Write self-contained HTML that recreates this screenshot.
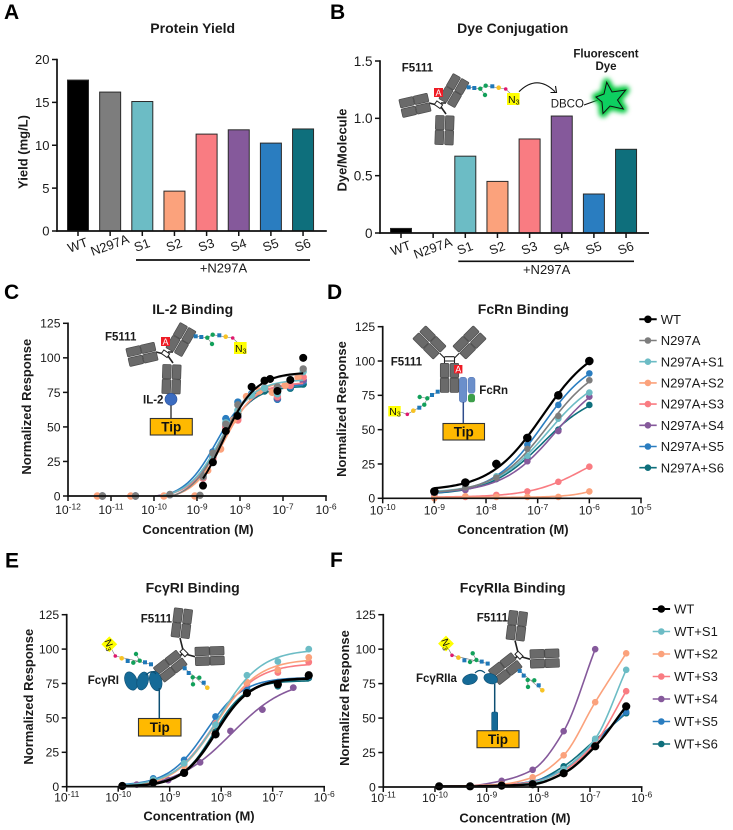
<!DOCTYPE html>
<html lang="en">
<head>
<meta charset="utf-8">
<title>Fc variant conjugation and binding figure</title>
<style>
html,body{margin:0;padding:0;background:#fff;}
svg{display:block;font-family:"Liberation Sans","DejaVu Sans",sans-serif;}
.b{font-weight:700;}
.ill{font-weight:700;font-size:11.5px;fill:#1a1a1a;}
.tip{font-weight:700;font-size:13.5px;fill:#111;text-anchor:middle;}
</style>
</head>
<body>
<svg id="figure" xmlns="http://www.w3.org/2000/svg" width="733" height="830" viewBox="0 0 733 830">
<defs>
<g id="dbl">
<rect x="-9.2" y="-14.6" width="8.6" height="14.2" rx="1" fill="#6a6a6a" stroke="#4a4a4a" stroke-width=".7"/>
<rect x="-9.2" y="-29.4" width="8.6" height="14.2" rx="1" fill="#6a6a6a" stroke="#4a4a4a" stroke-width=".7"/>
<rect x=".6" y="-14.6" width="8.6" height="14.2" rx="1" fill="#6a6a6a" stroke="#4a4a4a" stroke-width=".7"/>
<rect x=".6" y="-29.4" width="8.6" height="14.2" rx="1" fill="#6a6a6a" stroke="#4a4a4a" stroke-width=".7"/>
</g>
<filter id="glow" x="-60%" y="-60%" width="220%" height="220%"><feGaussianBlur stdDeviation="2.4"/></filter>
<g id="ab-side">
<path d="M429 103L437 105M446 114L441 107M446 103L441 103" stroke="#222" stroke-width="1.6" fill="none"/>
<rect x="435" y="102.5" width="7" height="4.4" fill="#fff" stroke="#222" stroke-width="1" transform="rotate(35 438.5 104.7)"/>
<use href="#dbl" transform="translate(445,115.3) rotate(182)"/>
<use href="#dbl" transform="translate(429.5,102) rotate(-103)"/>
<use href="#dbl" transform="translate(446.5,103.5) rotate(30)"/>
</g>
<g id="gly-b">
<path d="M468.7 87.3L480.3 88.7L485.7 85.7L505.7 89L512 95M480.3 88.7L485 95" stroke="#777" stroke-width=".6" fill="none"/>
<rect x="466.7" y="85.3" width="4" height="4" fill="#1f78b8"/>
<rect x="472.3" y="86" width="4" height="4" fill="#1f78b8"/>
<rect x="490.3" y="84.3" width="4" height="4" fill="#1f78b8"/>
<circle cx="480.3" cy="88.7" r="2.2" fill="#12a05a"/>
<circle cx="485.7" cy="85.7" r="2.2" fill="#12a05a"/>
<circle cx="485" cy="95" r="2.2" fill="#12a05a"/>
<circle cx="498.7" cy="87.7" r="2.3" fill="#f7c325"/>
<circle cx="505.7" cy="89" r="1.8" fill="#e0186e"/>
<rect x="507" y="93" width="12.6" height="12" fill="#ffff00"/>
<text x="508" y="103" font-size="10.5" fill="#111">N<tspan font-size="7" dy="1.5">3</tspan></text>
</g>
<g id="gly-e1">
<path d="M115.3 656L151 664.3M133.3 662.7L139.7 660.7L136 654M115.3 656L111 648" stroke="#777" stroke-width=".6" fill="none"/>
<rect x="125.7" y="659" width="4" height="4" fill="#1f78b8"/>
<rect x="143" y="660.3" width="4" height="4" fill="#1f78b8"/>
<rect x="149" y="662.3" width="4" height="4" fill="#1f78b8"/>
<circle cx="133.3" cy="662.7" r="2.2" fill="#12a05a"/>
<circle cx="139.7" cy="660.7" r="2.2" fill="#12a05a"/>
<circle cx="136" cy="654" r="2.2" fill="#12a05a"/>
<circle cx="121.7" cy="658.3" r="2.3" fill="#f7c325"/>
<circle cx="115.3" cy="656" r="1.8" fill="#e0186e"/>
<g transform="translate(109.3,644.3) rotate(45)">
<rect x="-5.6" y="-5.6" width="11.2" height="11.2" fill="#ffff00"/>
<text transform="rotate(25)" x="-5" y="3.5" font-size="10" fill="#111">N<tspan font-size="7" dy="1.5">3</tspan></text>
</g>
</g>
<g id="gly-e2">
<path d="M184.7 668.3L207.3 687.7M192.7 677.3L199.3 677.7M192.7 677.3L193 684.3" stroke="#777" stroke-width=".6" fill="none"/>
<rect x="182.7" y="666.3" width="4" height="4" fill="#1f78b8"/>
<rect x="186.7" y="671" width="4" height="4" fill="#1f78b8"/>
<rect x="201.7" y="680.7" width="4" height="4" fill="#1f78b8"/>
<circle cx="192.7" cy="677.3" r="2.2" fill="#12a05a"/>
<circle cx="199.3" cy="677.7" r="2.2" fill="#12a05a"/>
<circle cx="193" cy="684.3" r="2.2" fill="#12a05a"/>
<circle cx="207.3" cy="687.7" r="2.3" fill="#f7c325"/>
</g>
<g id="ab-top">
<path d="M180 638L183 650M195 656.7L187 654.5M179 657L182 654" stroke="#222" stroke-width="1.6" fill="none"/>
<rect x="180.5" y="650.5" width="7" height="4.4" fill="#fff" stroke="#222" stroke-width="1" transform="rotate(45 184 652.7)"/>
<use href="#dbl" transform="translate(180,638) rotate(7)"/>
<use href="#dbl" transform="translate(194.8,656.5) rotate(88)"/>
<use href="#dbl" transform="translate(182,657) rotate(-128)"/>
</g>
</defs>

<g id="charts"></g>

<g id="ill-b">
<text class="ill" x="401.7" y="71.7">F5111</text>
<use href="#ab-side"/>
<use href="#gly-b"/>
<rect x="434" y="88" width="9" height="9" fill="#ee1c25"/>
<text x="438.5" y="95.8" text-anchor="middle" font-size="9" fill="#fff">A</text>
<path d="M519 91.7Q537 74 555 91.7M550.5 92.5L556.5 92.5L555.5 86" fill="none" stroke="#111" stroke-width="1.1"/>
<text x="550.7" y="107.7" font-size="11.5" fill="#1a1a1a">DBCO</text>
<path d="M584 105L598 100" stroke="#111" stroke-width="1"/>
<polygon points="606.7,82.3 612,92 625.7,90 617.5,100 623.3,109 610,106 603,113.5 602,102 596,97 604,94" fill="#00c83c" stroke="#00c83c" stroke-width="8" stroke-linejoin="round" filter="url(#glow)"/>
<polygon points="606.7,82.3 612,92 625.7,90 617.5,100 623.3,109 610,106 603,113.5 602,102 596,97 604,94" fill="#0dcf60" stroke="#111" stroke-width="1"/>
<text class="ill" x="606" y="57.3" text-anchor="middle" font-size="12">Fluorescent</text>
<text class="ill" x="606" y="70" text-anchor="middle">Dye</text>
</g>

<g id="ill-c">
<text class="ill" x="105" y="340.7">F5111</text>
<g transform="translate(-273,249)">
<use href="#ab-side"/>
<use href="#gly-b"/>
<rect x="434" y="88" width="9" height="9" fill="#ee1c25"/>
<text x="438.5" y="95.8" text-anchor="middle" font-size="9" fill="#fff">A</text>
</g>
<path d="M171 405V418.5" stroke="#444" stroke-width="1.5"/>
<circle cx="171" cy="399.3" r="6" fill="#3c6cc0" stroke="#2a4f95" stroke-width=".6"/>
<text class="ill" x="143" y="403.5">IL-2</text>
<rect x="150.3" y="418.5" width="42" height="16.5" fill="#ffb900" stroke="#333" stroke-width="1.1"/>
<text class="tip" x="171.3" y="431.5">Tip</text>
</g>

<g id="ill-d">
<text class="ill" x="390.7" y="365.7">F5111</text>
<path d="M439.5 353L444.5 358M459.5 353L454.5 358M444.5 357V363M454.5 357V363M444.5 356.7H454.5M444.5 361H454.5" stroke="#222" stroke-width="1.1" fill="none"/>
<use href="#dbl" transform="translate(449.5,363) rotate(180)"/>
<use href="#dbl" transform="translate(440,353) rotate(-45)"/>
<use href="#dbl" transform="translate(459,353) rotate(45)"/>
<rect x="454" y="365" width="8.4" height="8.4" fill="#ee1c25"/>
<text x="458.2" y="372.5" text-anchor="middle" font-size="9" fill="#fff">A</text>
<g>
<path d="M437.7 391.7L427.3 398.3L424.3 404.7L413.3 410.7L407.3 414.3L400.7 412M427.3 398.3L419.7 397" stroke="#777" stroke-width=".6" fill="none"/>
<rect x="435.7" y="389.7" width="4" height="4" fill="#1f78b8"/>
<rect x="430" y="393" width="4" height="4" fill="#1f78b8"/>
<rect x="417.3" y="405.7" width="4" height="4" fill="#1f78b8"/>
<circle cx="427.3" cy="398.3" r="2.2" fill="#12a05a"/>
<circle cx="424.3" cy="404.7" r="2.2" fill="#12a05a"/>
<circle cx="419.7" cy="397" r="2.2" fill="#12a05a"/>
<circle cx="413.3" cy="410.7" r="2.3" fill="#f7c325"/>
<circle cx="407.3" cy="414.3" r="1.8" fill="#e0186e"/>
<rect x="388.3" y="406" width="12.4" height="10.4" fill="#ffff00"/>
<text x="389.3" y="414.8" font-size="10.5" fill="#111">N<tspan font-size="7" dy="1.5">3</tspan></text>
</g>
<rect x="459.3" y="377.3" width="7.4" height="25" rx="2.5" fill="#6b8fcb" stroke="#5577b5" stroke-width=".5"/>
<rect x="468" y="377.3" width="7" height="16" rx="2.5" fill="#6b8fcb" stroke="#5577b5" stroke-width=".5"/>
<rect x="468" y="394" width="7" height="8.3" rx="2.5" fill="#3c9e4a"/>
<path d="M463.3 402V423.5" stroke="#2f4c8c" stroke-width="1.5"/>
<text class="ill" x="479.3" y="394">FcRn</text>
<rect x="443" y="423.5" width="41.5" height="16.5" fill="#ffb900" stroke="#333" stroke-width="1.1"/>
<text class="tip" x="463.7" y="436.5">Tip</text>
</g>

<g id="ill-e">
<text class="ill" x="140.7" y="622.7">F5111</text>
<use href="#ab-top"/>
<use href="#gly-e1"/>
<use href="#gly-e2"/>
<g fill="#156a97" stroke="#0d4f73" stroke-width=".6">
<ellipse cx="131" cy="681" rx="6" ry="9.5" transform="rotate(-20 131 681)"/>
<ellipse cx="142.7" cy="681" rx="5.6" ry="9.2" transform="rotate(15 142.7 681)"/>
<ellipse cx="155.7" cy="681" rx="6" ry="10" transform="rotate(-15 155.7 681)"/>
<path d="M146 675Q152 669 156 674" fill="none" stroke-width="1.2"/>
</g>
<path d="M159.3 688V718.5" stroke="#0d4f73" stroke-width="1.5"/>
<text class="ill" x="87.7" y="684">FcγRI</text>
<rect x="138.5" y="718.5" width="42.5" height="17.5" fill="#ffb900" stroke="#333" stroke-width="1.1"/>
<text class="tip" x="159.7" y="732">Tip</text>
</g>

<g id="ill-f">
<text class="ill" x="476.7" y="621.7">F5111</text>
<use href="#ab-top" transform="translate(335,2.5)"/>
<use href="#gly-e1" transform="translate(336.7,-0.7)"/>
<use href="#gly-e2" transform="translate(335,2.6)"/>
<g fill="#156a97" stroke="#0d4f73" stroke-width=".6">
<ellipse cx="470" cy="679.3" rx="7.7" ry="5" transform="rotate(-20 470 679.3)"/>
<ellipse cx="490.7" cy="678.7" rx="7" ry="5" transform="rotate(20 490.7 678.7)"/>
<path d="M475 673Q480 668 485 673" fill="none" stroke-width="1.2"/>
<rect x="491.7" y="712" width="6" height="18.5" rx="1.5"/>
</g>
<path d="M494.7 684V712" stroke="#0d4f73" stroke-width="1.5"/>
<text class="ill" x="416" y="682">FcγRIIa</text>
<rect x="477" y="730.7" width="42" height="17" fill="#ffb900" stroke="#333" stroke-width="1.1"/>
<text class="tip" x="498" y="744">Tip</text>
</g>
</svg>

<script>
/* ---------- Bar chart data ---------- */
const barCategories = ['WT', 'N297A', 'S1', 'S2', 'S3', 'S4', 'S5', 'S6'];
const yieldValues = [17.6, 16.2, 15.1, 4.65, 11.3, 11.8, 10.25, 11.9];
const yieldTicks = [0, 5, 10, 15, 20];
const dyeValues = [0.04, 0, 0.67, 0.45, 0.82, 1.02, 0.34, 0.73];
const dyeTicks = [0, 0.5, 1.0, 1.5];
const dyeTickLabels = ['0', '0.5', '1.0', '1.5'];

/* ---------- Binding curves: shared ticks ---------- */
const responseTicks = [0, 25, 50, 75, 100, 125];
const il2Exponents = [-12, -11, -10, -9, -8, -7, -6];
const fcrnExponents = [-10, -9, -8, -7, -6, -5];
const fcgriExponents = [-11, -10, -9, -8, -7, -6];
const fcgriiaExponents = [-11, -10, -9, -8, -7, -6];

/* ---------- IL-2 binding (log10 M, % response) ---------- */
const il2ConcWT = [-8.86, -8.63, -8.33, -8.06, -7.73, -7.43, -7.3, -7.13, -6.83, -6.53];
const il2ConcN297A = [-11.2, -10.43, -9.63, -8.93, -8.86, -8.63, -8.33, -8.05, -7.73, -7.43, -7.13, -6.83, -6.53];
const il2Conc = [-11.2, -10.43, -9.63, -8.86, -8.63, -8.33, -8.05, -7.73, -7.43, -7.13, -6.83, -6.53];
const il2ConcS2 = [-11.32, -10.54, -9.77, -9.05, -8.75, -8.45, -8.15, -7.85, -7.55, -7.25, -6.95, -6.65];
const il2WT = [7.5, 24.4, 47, 58, 79, 83.5, 84.7, 76, 84, 100];
const il2N297A = [0, 0, 1, 0.5, 14, 31, 52, 66, 79, 83, 79, 84, 92];
const il2S1 = [0, 0, 1, 14, 30, 53, 62, 73, 78, 74, 84, 90];
const il2S2 = [0, 0, 0, 0, 18.5, 34, 55, 72, 76, 75, 80, 86];
const il2S3 = [0, 0, 1, 13, 27, 50, 55, 73, 78, 72, 80, 86];
const il2S4 = [0, 0, 1, 13, 28, 50, 57, 73, 78, 71, 80, 84];
const il2S5 = [0, 0, 1, 15, 32, 56, 68, 74, 78, 70, 79, 83];
const il2S6 = [0, 0, 1, 13, 28, 50, 60, 72, 76, 70, 78, 81];

/* ---------- FcRn binding ---------- */
const fcrnConc = [-9.0, -8.4, -7.8, -7.2, -6.6, -6.0];
const fcrnWT = [5, 11.5, 25, 44, 75, 100];
const fcrnN297A = [4, 8, 15, 36, 60, 86];
const fcrnS1 = [4, 8, 16, 31, 58, 77];
const fcrnS2 = [0, 1.5, 1, 1, 1, 5];
const fcrnS3 = [1, 1, 2.5, 5, 12, 23];
const fcrnS4 = [3, 6, 15, 27, 49, 74];
const fcrnS5 = [4, 8, 15, 39, 68, 91];
const fcrnS6 = [3, 7, 14, 30, 50, 68];

/* ---------- FcγRI binding ---------- */
const fcgriConc = [-9.92, -9.32, -8.72, -8.11, -7.5, -6.9, -6.3];
const fcgriConcS4 = [-9.64, -9.03, -8.41, -7.82, -7.2, -6.6];
const fcgriWT = [0.5, 3, 10, 38, 68, 74.5, 81];
const fcgriS1 = [0.5, 5, 17, 45, 81, 91, 100];
const fcgriS2 = [0, 4, 15, 45, 76, 85, 94];
const fcgriS3 = [0, 4, 16, 46, 75, 83, 90.5];
const fcgriS4 = [1.5, 4.8, 17.7, 40.5, 56, 72];
const fcgriS5 = [0.5, 6, 19.5, 51, 72, 76, 80];
const fcgriS6 = [0.5, 3, 11, 40, 70, 73, 79];

/* ---------- FcγRIIa binding ---------- */
const fcgriiaConc = [-9.92, -9.32, -8.71, -8.11, -7.51, -6.9, -6.3];
const fcgriiaWT = [0.5, 0.5, 1, 2, 10, 29.5, 58.5];
const fcgriiaS1 = [0.5, 0.5, 1, 3, 13, 35, 85];
const fcgriiaS2 = [0.5, 1, 2, 7, 23, 61.5, 97];
const fcgriiaS3 = [0.5, 0.5, 1.5, 3.5, 12, 32, 69.5];
const fcgriiaS4 = [0.5, 1, 4.5, 12.5, 40.5, 100];
const fcgriiaS5 = [0.5, 0.5, 1.5, 4, 13, 33, 54.5];
const fcgriiaS6 = [0.5, 0.5, 1.5, 4, 15, 34, 53.5];

/* ---------- Styling ---------- */
const SVGNS = 'http://www.w3.org/2000/svg';
const root = document.getElementById('charts');
const COL = {WT:'#000000', N297A:'#7d7d7d', S1:'#6cbcc5', S2:'#fba27c', S3:'#f97c82', S4:'#85599b', S5:'#2a7dc0', S6:'#0e6f7c'};
const INK = '#1a1a1a';

function make(tag, attrs, parent) {
  const n = document.createElementNS(SVGNS, tag);
  for (const k in attrs) n.setAttribute(k, attrs[k]);
  (parent || root).appendChild(n);
  return n;
}
function slug(s) { return String(s).toLowerCase().replace(/[^a-z0-9]+/g, '-').replace(/^-|-$/g, ''); }

/* ---------- Panel decorations ---------- */
function panelLetter(ch, x, y) {
  const t = make('text', {x:x, y:y, 'font-size':21, 'font-weight':700, fill:'#000'});
  t.textContent = ch;
  
  
}
function title(str, x, y) {
  const t = make('text', {x:x, y:y, 'font-size':14, 'font-weight':700, fill:INK, 'text-anchor':'middle'});
  t.textContent = str;
  
  
}
function yTitle(str, x, y) {
  const t = make('text', {x:x, y:y, 'font-size':13, 'font-weight':700, fill:INK, 'text-anchor':'middle', transform:'rotate(-90 ' + x + ' ' + y + ')'});
  t.textContent = str;
  
  
}
function xTitle(str, x, y) {
  const t = make('text', {x:x, y:y, 'font-size':13, 'font-weight':700, fill:INK, 'text-anchor':'middle'});
  t.textContent = str;
  
  
}
function axisLine(x1, y1, x2, y2, w, name) {
  const l = make('line', {x1:x1, y1:y1, x2:x2, y2:y2, stroke:'#111', 'stroke-width':w});
  
  
}
function yAxis(ax, yOf, ticks, labels, fs) {
  const top = yOf(ticks[ticks.length - 1]), bot = yOf(ticks[0]);
  axisLine(ax, top - 0.8, ax, bot + 0.8, 1.7, 'y-axis-line');
  ticks.forEach(function (v, i) {
    axisLine(ax - 5, yOf(v), ax, yOf(v), 1.5, 'y-tick');
    const t = make('text', {x:ax - 7.5, y:yOf(v) + fs * 0.36, 'font-size':fs, fill:INK, 'text-anchor':'end'});
    t.textContent = labels ? labels[i] : v;
    
    
  });
}

/* ---------- Bar charts ---------- */
function barChart(cfg) {
  const yOf = function (v) { return cfg.y0 - (v / cfg.yMax) * (cfg.y0 - cfg.yTop); };
  const xOf = function (i) { return cfg.first + i * cfg.step; };
  cfg.values.forEach(function (v, i) {
    const r = make('rect', {x:xOf(i) - 10.5, y:yOf(v), width:21, height:Math.max(0, cfg.y0 - yOf(v)), fill:COL[barCategories[i]] || COL.WT, stroke:'#2a2a2a', 'stroke-width':v > 0 ? 1 : 0});
    
    
  });
  yAxis(cfg.ax, yOf, cfg.ticks, cfg.tickLabels, cfg.fs);
  axisLine(cfg.ax - 0.8, cfg.y0, cfg.xEnd, cfg.y0, 1.7, 'x-axis-line');
  barCategories.forEach(function (c, i) {
    axisLine(xOf(i), cfg.y0, xOf(i), cfg.y0 + 5, 1.5, 'x-tick');
    const ly = cfg.y0 + cfg.labelDy;
    const t = make('text', {x:xOf(i), y:ly, 'font-size':13, fill:INK, 'text-anchor':'middle', 'dominant-baseline':'middle', transform:'rotate(-20 ' + xOf(i) + ' ' + ly + ')'});
    t.textContent = c;
    
    
  });
  axisLine(cfg.brace[0], cfg.brace[2], cfg.brace[1], cfg.brace[2], 1.7, 'n297a-group-bracket');
  const g = make('text', {x:(cfg.brace[0] + cfg.brace[1]) / 2 + 0.5, y:cfg.brace[2] + 12.5, 'font-size':13, fill:INK, 'text-anchor':'middle'});
  g.textContent = '+N297A';
  
  
}

/* ---------- Curve builders ---------- */
function logisticFit(xs, ys, bLo, bHi, hLo, hHi) {
  let best = null;
  for (let ec = -10; ec <= -5.5; ec += 0.05) {
    for (let h = hLo; h <= hHi + 1e-9; h += 0.05) {
      const f = xs.map(function (x) { return 1 / (1 + Math.pow(10, h * (ec - x))); });
      const n = xs.length;
      let sf = 0, sy = 0, sff = 0, sfy = 0;
      for (let i = 0; i < n; i++) { sf += f[i]; sy += ys[i]; sff += f[i] * f[i]; sfy += f[i] * ys[i]; }
      const den = n * sff - sf * sf;
      if (Math.abs(den) < 1e-9) continue;
      let s = (n * sfy - sf * sy) / den;
      let b = (sy - s * sf) / n;
      if (b < bLo || b > bHi) {
        b = Math.min(bHi, Math.max(bLo, b));
        s = sff > 0 ? (sfy - b * sf) / sff : 0;
      }
      let sse = 0;
      for (let i = 0; i < n; i++) { const e = b + s * f[i] - ys[i]; sse += e * e; }
      if (!best || sse < best.sse) best = {sse:sse, ec:ec, h:h, b:b, s:s};
    }
  }
  return function (x) { return best.b + best.s / (1 + Math.pow(10, best.h * (best.ec - x))); };
}
function monotoneSpline(xs, ys) {
  const n = xs.length, d = [], m = [];
  for (let i = 0; i < n - 1; i++) d.push((ys[i + 1] - ys[i]) / (xs[i + 1] - xs[i]));
  m[0] = d[0]; m[n - 1] = d[n - 2];
  for (let i = 1; i < n - 1; i++) m[i] = d[i - 1] * d[i] <= 0 ? 0 : 2 * d[i - 1] * d[i] / (d[i - 1] + d[i]);
  return function (x) {
    let k = 0;
    while (k < n - 2 && x > xs[k + 1]) k++;
    const w = xs[k + 1] - xs[k], t = (x - xs[k]) / w, t2 = t * t, t3 = t2 * t;
    return (2 * t3 - 3 * t2 + 1) * ys[k] + (t3 - 2 * t2 + t) * w * m[k] + (-2 * t3 + 3 * t2) * ys[k + 1] + (t3 - t2) * w * m[k + 1];
  };
}

/* ---------- Dose-response charts ---------- */
function doseChart(cfg) {
  const xOf = function (lg) { return cfg.ax + (lg - cfg.exps[0]) * cfg.dec; };
  const yOf = function (v) { return cfg.y0 - (v / 125) * (cfg.y0 - cfg.yTop); };
  const order = cfg.series.slice().reverse();
  order.forEach(function (s) {
    const isWT = s.key === 'WT';
    const xs = s.x.slice(0, s.y.length);
    const fn = cfg.fit ? logisticFit(xs, s.y, cfg.fit[0], cfg.fit[1], cfg.fit[2], cfg.fit[3]) : monotoneSpline(xs, s.y);
    const xa = Math.min.apply(null, xs), xb = Math.max.apply(null, xs);
    let d = '';
    for (let i = 0; i <= 80; i++) {
      const x = xa + (xb - xa) * i / 80;
      const v = fn(x);
      if (v < 0 || (cfg.fit && v < 0.15 && fn(x + 0.05) < 0.15)) continue;
      d += (d ? 'L' : 'M') + xOf(x).toFixed(2) + ' ' + yOf(v).toFixed(2);
    }
    const p = make('path', {d:d, fill:'none', stroke:COL[s.key], 'stroke-width':isWT ? cfg.wtWidth : 1.6, 'stroke-linejoin':'round'});
    
    
    s.y.forEach(function (v, i) {
      const c = make('circle', {cx:xOf(xs[i]), cy:yOf(v), r:isWT ? cfg.wtR : cfg.r, fill:COL[s.key]});
      
      
    });
  });
  yAxis(cfg.ax, yOf, responseTicks, null, cfg.fs);
  const xEnd = xOf(cfg.exps[cfg.exps.length - 1]);
  axisLine(cfg.ax - 0.8, cfg.y0, xEnd + 0.8, cfg.y0, 1.7, 'x-axis-line');
  cfg.exps.forEach(function (e) {
    axisLine(xOf(e), cfg.y0, xOf(e), cfg.y0 + 5, 1.5, 'x-tick');
    const t = make('text', {x:xOf(e), y:cfg.labelY, 'font-size':cfg.fs, fill:INK, 'text-anchor':'middle'});
    
    
    t.appendChild(document.createTextNode('10'));
    const sup = make('tspan', {dy:-4.5, 'font-size':8.5}, t);
    sup.textContent = String(e);
    
    
  });
  if (cfg.legend) {
    const L = cfg.legend;
    cfg.series.forEach(function (s, i) {
      const y = L.y + i * L.dy;
      const ln = make('line', {x1:L.x, x2:L.x + 17.4, y1:y, y2:y, stroke:COL[s.key], 'stroke-width':s.key === 'WT' ? 2 : 1.6});
      
      
      const mk = make('circle', {cx:L.x + 8.6, cy:y, r:s.key === 'WT' ? 3.8 : 3.3, fill:COL[s.key]});
      
      
      const tx = make('text', {x:L.x + 21.4, y:y + 4.6, 'font-size':13, fill:INK});
      tx.textContent = s.name;
      
      
    });
  }
}

/* ---------- Panel A ---------- */
panelLetter('A', 4, 19);
title('Protein Yield', 192.7, 33);
yTitle('Yield (mg/L)', 27.5, 152);
barChart({values:yieldValues, ticks:yieldTicks, tickLabels:null, yMax:20, y0:231, yTop:59.5, ax:57, first:78, step:32.15, xEnd:326.8, fs:13, labelDy:15, brace:[136, 310, 260]});

/* ---------- Panel B ---------- */
panelLetter('B', 330, 19);
title('Dye Conjugation', 512.7, 33);
yTitle('Dye/Molecule', 346.5, 150);
barChart({values:dyeValues, ticks:dyeTicks, tickLabels:dyeTickLabels, yMax:1.5, y0:233, yTop:61, ax:380, first:401, step:32.15, xEnd:649, fs:13.5, labelDy:16, brace:[458.3, 634, 261.3]});

/* ---------- Panel C ---------- */
panelLetter('C', 4, 299);
title('IL-2 Binding', 192.7, 314);
yTitle('Normalized Response', 31, 406.7);
xTitle('Concentration (M)', 198, 534);
doseChart({exps:il2Exponents, ax:68, dec:43, y0:496, yTop:323.3, fs:12.2, labelY:514, r:3.7, wtR:4, wtWidth:2, fit:[-10, 0, 0.85, 1.15], series:[
  {key:'WT', name:'WT', x:il2ConcWT, y:il2WT},
  {key:'N297A', name:'N297A', x:il2ConcN297A, y:il2N297A},
  {key:'S1', name:'N297A+S1', x:il2Conc, y:il2S1},
  {key:'S2', name:'N297A+S2', x:il2ConcS2, y:il2S2},
  {key:'S3', name:'N297A+S3', x:il2Conc, y:il2S3},
  {key:'S4', name:'N297A+S4', x:il2Conc, y:il2S4},
  {key:'S5', name:'N297A+S5', x:il2Conc, y:il2S5},
  {key:'S6', name:'N297A+S6', x:il2Conc, y:il2S6}
]});

/* ---------- Panel D ---------- */
panelLetter('D', 327, 299);
title('FcRn Binding', 523.3, 314);
yTitle('Normalized Response', 346, 409);
xTitle('Concentration (M)', 513, 534);
doseChart({exps:fcrnExponents, ax:382.7, dec:51.66, y0:498.3, yTop:326.7, fs:12.2, labelY:514.5, r:3.3, wtR:4.3, wtWidth:2.2, fit:[0, 10, 0.85, 1.3], legend:{x:639.3, y:319.3, dy:21.2}, series:[
  {key:'WT', name:'WT', x:fcrnConc, y:fcrnWT},
  {key:'N297A', name:'N297A', x:fcrnConc, y:fcrnN297A},
  {key:'S1', name:'N297A+S1', x:fcrnConc, y:fcrnS1},
  {key:'S2', name:'N297A+S2', x:fcrnConc, y:fcrnS2},
  {key:'S3', name:'N297A+S3', x:fcrnConc, y:fcrnS3},
  {key:'S4', name:'N297A+S4', x:fcrnConc, y:fcrnS4},
  {key:'S5', name:'N297A+S5', x:fcrnConc, y:fcrnS5},
  {key:'S6', name:'N297A+S6', x:fcrnConc, y:fcrnS6}
]});

/* ---------- Panel E ---------- */
panelLetter('E', 5, 567.5);
title('FcγRI Binding', 192.7, 592.7);
yTitle('Normalized Response', 33, 696.7);
xTitle('Concentration (M)', 199, 820.7);
doseChart({exps:fcgriExponents, ax:66.7, dec:51.5, y0:786.7, yTop:614.7, fs:12.2, labelY:801.7, r:3.4, wtR:4.1, wtWidth:2.6, fit:[-2, 1, 0.8, 1.5], series:[
  {key:'WT', name:'WT', x:fcgriConc, y:fcgriWT},
  {key:'S1', name:'WT+S1', x:fcgriConc, y:fcgriS1},
  {key:'S2', name:'WT+S2', x:fcgriConc, y:fcgriS2},
  {key:'S3', name:'WT+S3', x:fcgriConc, y:fcgriS3},
  {key:'S4', name:'WT+S4', x:fcgriConcS4, y:fcgriS4},
  {key:'S5', name:'WT+S5', x:fcgriConc, y:fcgriS5},
  {key:'S6', name:'WT+S6', x:fcgriConc, y:fcgriS6}
]});

/* ---------- Panel F ---------- */
panelLetter('F', 330, 567);
title('FcγRIIa Binding', 512.7, 592.7);
yTitle('Normalized Response', 349, 698);
xTitle('Concentration (M)', 515, 822.5);
doseChart({exps:fcgriiaExponents, ax:383.3, dec:51.68, y0:787, yTop:614.7, fs:12.2, labelY:802, r:3.3, wtR:4.1, wtWidth:2.4, fit:null, legend:{x:652.7, y:609, dy:22.5}, series:[
  {key:'WT', name:'WT', x:fcgriiaConc, y:fcgriiaWT},
  {key:'S1', name:'WT+S1', x:fcgriiaConc, y:fcgriiaS1},
  {key:'S2', name:'WT+S2', x:fcgriiaConc, y:fcgriiaS2},
  {key:'S3', name:'WT+S3', x:fcgriiaConc, y:fcgriiaS3},
  {key:'S4', name:'WT+S4', x:fcgriiaConc, y:fcgriiaS4},
  {key:'S5', name:'WT+S5', x:fcgriiaConc, y:fcgriiaS5},
  {key:'S6', name:'WT+S6', x:fcgriiaConc, y:fcgriiaS6}
]});
</script>
</body>
</html>
